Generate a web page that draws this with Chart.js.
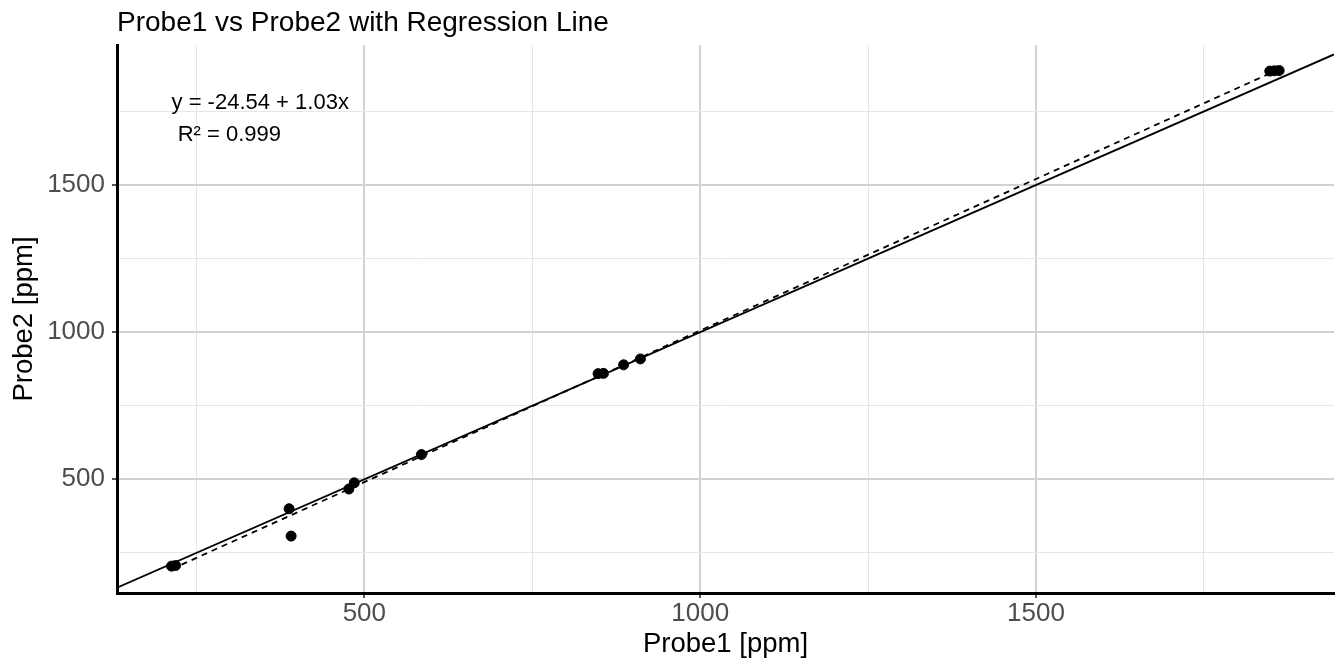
<!DOCTYPE html>
<html>
<head>
<meta charset="utf-8">
<script src="https://cdn.jsdelivr.net/npm/chart.js@4/dist/chart.umd.min.js"></script>
<style>
  body { margin: 0; background: #fff; }
  canvas { display: block; }
</style>
</head>
<body>
<canvas id="myChart" width="1340" height="658"></canvas>
<script>
const probe1 = [213, 219, 388, 391, 477, 485, 585, 848, 856, 886, 911, 1848, 1855, 1862];
const probe2 = [205, 207, 400, 307, 467, 488, 584, 859, 860, 889, 909, 1887, 1888, 1889];

const majorTicks = [500, 1000, 1500];
const minorTicks = [250, 750, 1250, 1750];

const intercept = -24.54;
const slope = 1.03;
const eqLines = ["y = -24.54 + 1.03x", " R\u00b2 = 0.999"];
const eqLabelY = 1780;

const xRange = [131.8, 1943.6];
const yRange = [113.7, 1975.7];

const FONT = '"Liberation Sans", Arial, sans-serif';

const points = probe1.map((x, i) => ({ x: x, y: probe2[i] }));
const x0 = Math.min(...probe1);
const x1 = Math.max(...probe1);
const fitLine = [
  { x: x0, y: intercept + slope * x0 },
  { x: x1, y: intercept + slope * x1 },
];
const identity = [
  { x: xRange[0], y: xRange[0] },
  { x: xRange[1], y: xRange[1] },
];

const isMajor = (v) => majorTicks.includes(v);

const gridOpts = {
  color: (c) => (c.tick && isMajor(c.tick.value) ? "#d2d2d2" : "#e6e6e6"),
  lineWidth: (c) => (c.tick && isMajor(c.tick.value) ? 2 : 1),
  tickColor: (c) => (c.tick && isMajor(c.tick.value) ? "#555555" : "rgba(0,0,0,0)"),
  tickWidth: 2,
  tickLength: 5,
  drawTicks: true,
};

const allTicks = (scale) => {
  scale.ticks = [...majorTicks, ...minorTicks]
    .sort((a, b) => a - b)
    .map((v) => ({ value: v }));
};

const textPlugin = {
  id: "texts",
  afterDraw(chart) {
    const ctx = chart.ctx;
    const area = chart.chartArea;
    const xs = chart.scales.x;
    const ys = chart.scales.y;
    ctx.save();
    ctx.fillStyle = "#000";

    // title
    ctx.font = "28px " + FONT;
    ctx.textAlign = "left";
    ctx.textBaseline = "alphabetic";
    ctx.fillText("Probe1 vs Probe2 with Regression Line", area.left, 31);

    // axis titles
    ctx.font = "27.5px " + FONT;
    ctx.textAlign = "center";
    ctx.fillText("Probe1 [ppm]", (area.left + area.right) / 2, 652);

    ctx.save();
    ctx.translate(32, (area.top + area.bottom) / 2);
    ctx.rotate(-Math.PI / 2);
    ctx.fillText("Probe2 [ppm]", 0, 0);
    ctx.restore();

    // regression equation
    ctx.font = "22px " + FONT;
    ctx.textAlign = "left";
    ctx.textBaseline = "middle";
    const lx = xs.getPixelForValue(x0);
    const ly = ys.getPixelForValue(eqLabelY);
    eqLines.forEach((t, i) => ctx.fillText(t, lx, ly + i * 32));
    ctx.restore();
  },
};

const data = {
  datasets: [
    {
      label: "points",
      data: points,
      backgroundColor: "#000",
      borderColor: "#000",
      pointRadius: 5,
      showLine: false,
    },
    {
      label: "identity",
      data: identity,
      borderColor: "#000",
      borderWidth: 1.8,
      pointRadius: 0,
      showLine: true,
    },
    {
      label: "fit",
      data: fitLine,
      borderColor: "#000",
      borderWidth: 1.8,
      borderDash: [6, 5],
      pointRadius: 0,
      showLine: true,
    },
  ],
};

const config = {
  type: "scatter",
  data: data,
  options: {
    responsive: false,
    animation: false,
    layout: { padding: { top: 45, right: 6, left: 0, bottom: 0 } },
    plugins: {
      legend: { display: false },
      title: { display: false },
      tooltip: { enabled: false },
    },
    scales: {
      x: {
        type: "linear",
        min: xRange[0],
        max: xRange[1],
        afterBuildTicks: allTicks,
        afterFit: (s) => { s.height = 65; },
        grid: gridOpts,
        border: { display: true, color: "#000", width: 3 },
        ticks: {
          color: "#4d4d4d",
          font: { family: FONT, size: 26, lineHeight: 1 },
          padding: 3,
          maxRotation: 0,
          autoSkip: false,
          callback: (v) => (isMajor(v) ? String(v) : ""),
        },
      },
      y: {
        type: "linear",
        min: yRange[0],
        max: yRange[1],
        afterBuildTicks: allTicks,
        afterFit: (s) => { s.width = 117; },
        grid: gridOpts,
        border: { display: true, color: "#000", width: 3 },
        ticks: {
          color: "#4d4d4d",
          font: { family: FONT, size: 26, lineHeight: 1 },
          padding: 7,
          autoSkip: false,
          callback: (v) => (isMajor(v) ? String(v) : ""),
        },
      },
    },
  },
  plugins: [textPlugin],
};

const ctx = document.getElementById("myChart").getContext("2d");
new Chart(ctx, config);
</script>
</body>
</html>
